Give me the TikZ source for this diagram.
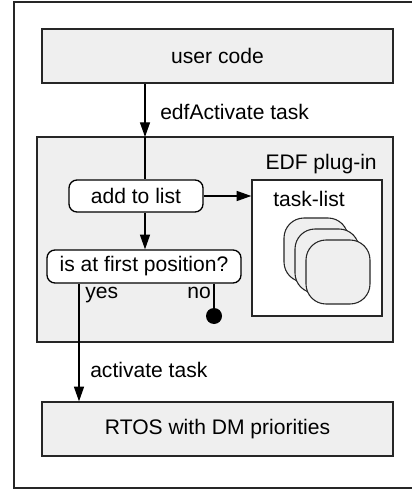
\documentclass[tikz,border=0pt]{standalone}
\usepackage{fontspec}
\setmainfont{Liberation Sans}
\usetikzlibrary{arrows.meta, positioning}
\definecolor{boxfill}{HTML}{EFEFEF}
\definecolor{edge}{HTML}{262626}
\tikzset{
  layerbox/.style={rectangle, draw=edge, line width=1pt, fill=boxfill,
                   minimum width=263.25pt, minimum height=40.5pt, inner sep=0pt},
  stepbox/.style={rectangle, rounded corners=6pt, draw=black, line width=1pt,
                  fill=white, minimum height=24pt, inner sep=0pt},
  cardbox/.style={rectangle, rounded corners=15pt, draw=edge, line width=0.8pt,
                  fill=boxfill, minimum width=48pt, minimum height=48pt},
  arrow/.style={-{Triangle[length=11pt,width=7.5pt]}, line width=1pt},
  lbl/.style={inner sep=0pt},
}
\begin{document}
\begin{tikzpicture}[x=0.75pt, y=-0.75pt, font=\fontsize{15.8}{19}\selectfont]
    \useasboundingbox (0,0) rectangle (411,491);
    \draw[edge, line width=1.5pt] (14,2) rectangle (420,488);
    % layers
    \node[layerbox] (user) at (217.5,56) {user code};
    \node[layerbox, minimum width=267pt, minimum height=153.75pt] (plugin) at (215,239.5) {};
    \node[lbl, anchor=base east] (plugname) at (377,170) {EDF plug-in};
    \node[layerbox] (rtos) at (217.5,429) {RTOS with DM priorities};
    % task list
    \node[rectangle, draw=edge, line width=1pt, fill=white,
          minimum width=97.5pt, minimum height=102pt] (tasklist) at (317,248) {};
    \node[lbl, anchor=base west] (listname) at (273,206.5) {task-list};
    \foreach \i in {0,1,2}
      \node[cardbox] (card\i) at (316+11*\i, 250+11*\i) {};
    % steps
    \node[stepbox, minimum width=100.5pt] (add) at (136,196) {add to list};
    \node[stepbox, minimum width=145.5pt, minimum height=24.75pt] (first) at (144,266.5) {is at first position?};
    \node[circle, fill=black, minimum size=12pt, inner sep=0pt] (nodot) at (214,316) {};
    \coordinate (entry) at (145,137);
    \coordinate (yesx) at (79,0);
    \draw[arrow] (user.south -| entry) -- (entry);
    \draw[line width=1pt] (entry) -- (add.north -| entry);
    \draw[arrow] (add.south -| entry) -- (first.north -| entry);
    \draw[arrow] (add.east) -- (tasklist.west |- add.east);
    \draw[arrow] (first.south -| yesx) -- (rtos.north -| yesx);
    \draw[line width=1pt] (first.south -| nodot) -- (nodot);
    % labels
    \node[lbl, anchor=base west] (callname) at (160,120) {edfActivate task};
    \node[lbl, anchor=base west] (yesname) at (85,298) {yes};
    \node[lbl, anchor=base east] (noname) at (211,298) {no};
    \node[lbl, anchor=base west] (actname) at (90,377) {activate task};
\end{tikzpicture}
\end{document}
